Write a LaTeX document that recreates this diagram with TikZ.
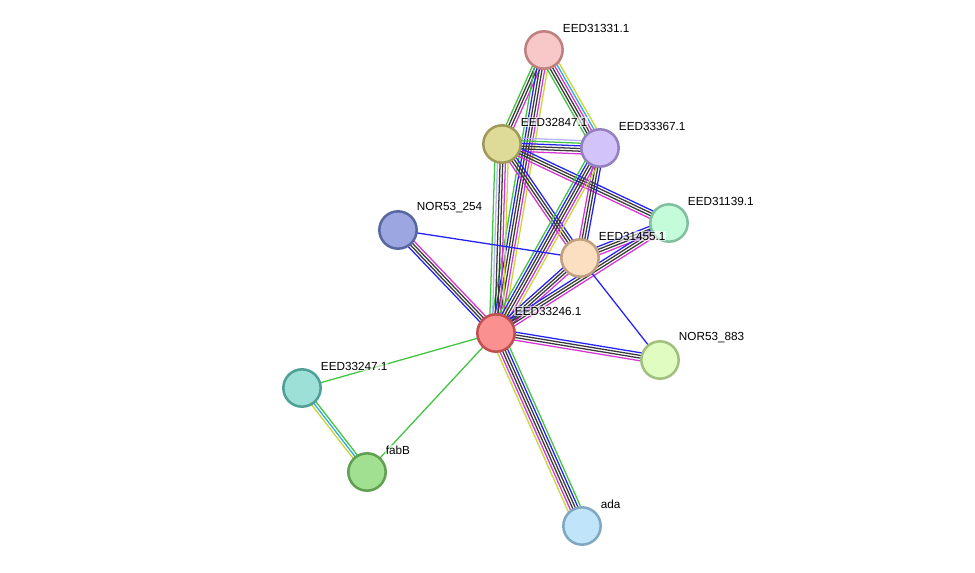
\documentclass[tikz,border=0pt]{standalone}
\usepackage{fontspec}
\setmainfont{Liberation Sans}
\usepackage{xcolor}
\usetikzlibrary{calc,backgrounds}
% evidence colours
\definecolor{nbgreen}{RGB}{62,196,62}
\definecolor{coblue}{RGB}{34,34,248}
\definecolor{coexp}{RGB}{58,58,58}
\definecolor{expmag}{RGB}{214,52,214}
\definecolor{dbcyan}{RGB}{44,172,222}
\definecolor{tmyellow}{RGB}{198,214,50}
\definecolor{homlav}{RGB}{178,178,246}
% protein colours
\definecolor{pinkA}{RGB}{248,200,200}\definecolor{pinkB}{RGB}{192,128,128}
\definecolor{oliveA}{RGB}{222,218,152}\definecolor{oliveB}{RGB}{160,154,90}
\definecolor{lavA}{RGB}{210,196,250}\definecolor{lavB}{RGB}{148,128,192}
\definecolor{mintA}{RGB}{196,252,218}\definecolor{mintB}{RGB}{128,192,160}
\definecolor{slateA}{RGB}{156,166,224}\definecolor{slateB}{RGB}{88,104,160}
\definecolor{peachA}{RGB}{252,222,192}\definecolor{peachB}{RGB}{192,160,128}
\definecolor{redA}{RGB}{250,144,144}\definecolor{redB}{RGB}{192,80,80}
\definecolor{limeA}{RGB}{224,252,192}\definecolor{limeB}{RGB}{160,192,128}
\definecolor{tealA}{RGB}{156,224,215}\definecolor{tealB}{RGB}{80,160,152}
\definecolor{leafA}{RGB}{160,224,144}\definecolor{leafB}{RGB}{96,160,80}
\definecolor{skyA}{RGB}{192,228,250}\definecolor{skyB}{RGB}{128,168,192}

% #1 number of lines, #2 #3 nodes, #4 colours
\newcommand{\evlink}[4]{%
  \foreach \c [count=\i] in {#4} {
    \pgfmathsetmacro{\off}{(\i-(#1+1)/2)*2.0}
    \draw[evline, draw=\c] ($(#2)!\off pt!90:(#3)$) -- ($(#3)!\off pt!-90:(#2)$);
  }}

\begin{document}
\begin{tikzpicture}[
    x=0.75pt, y=-0.75pt,
    protein/.style={circle, inner sep=0pt, minimum size=28pt, line width=1.9pt},
    evline/.style={line width=0.95pt},
    lbl/.style={anchor=west, inner sep=0.5pt, fill=white, fill opacity=0.6,
        text opacity=1, font=\fontsize{8.8pt}{10pt}\selectfont}
]
\useasboundingbox (0,0) rectangle (975,572);

\node[protein, fill=pinkA, draw=pinkB] (p31331) at (544,50) {};
\node[protein, fill=oliveA, draw=oliveB] (p32847) at (502,144) {};
\node[protein, fill=lavA, draw=lavB] (p33367) at (600,148) {};
\node[protein, fill=mintA, draw=mintB] (p31139) at (669,223) {};
\node[protein, fill=slateA, draw=slateB] (n254) at (398,230) {};
\node[protein, fill=peachA, draw=peachB] (p31455) at (580,258) {};
\node[protein, fill=redA, draw=redB] (p33246) at (496,333) {};
\node[protein, fill=limeA, draw=limeB] (n883) at (660,360) {};
\node[protein, fill=tealA, draw=tealB] (p33247) at (302,388) {};
\node[protein, fill=leafA, draw=leafB] (fabB) at (367,472) {};
\node[protein, fill=skyA, draw=skyB] (ada) at (582,526) {};

\begin{scope}[on background layer]
\fill[white] (0,0) rectangle (975,572);
\evlink{4}{p31331}{p32847}{nbgreen,coexp,coexp,expmag}
\evlink{6}{p31331}{p33246}{nbgreen,coblue,coexp,coexp,expmag,tmyellow}
\evlink{6}{p31331}{p33367}{nbgreen,coexp,coexp,expmag,dbcyan,tmyellow}
\evlink{6}{p32847}{p33367}{expmag,coexp,coexp,coblue,nbgreen,homlav}
\evlink{6}{p32847}{p33246}{nbgreen,homlav,coexp,coexp,expmag,tmyellow}
\evlink{4}{p32847}{p31455}{expmag,coexp,coexp,coblue}
\evlink{4}{p32847}{p31139}{expmag,coexp,coexp,coblue}
\evlink{4}{p33367}{p31455}{expmag,coexp,coexp,coblue}
\evlink{6}{p33367}{p33246}{nbgreen,coblue,coexp,coexp,expmag,tmyellow}
\evlink{4}{p31455}{p31139}{expmag,coexp,coexp,coblue}
\evlink{4}{p31455}{p33246}{coblue,coexp,coexp,expmag}
\evlink{4}{p31139}{p33246}{coblue,coexp,coexp,expmag}
\evlink{1}{p31455}{n883}{coblue}
\evlink{1}{n254}{p31455}{coblue}
\evlink{4}{n254}{p33246}{coblue,coexp,coexp,expmag}
\evlink{4}{p33246}{n883}{expmag,coexp,coexp,coblue}
\evlink{6}{p33246}{ada}{tmyellow,expmag,coexp,coexp,coblue,nbgreen}
\evlink{1}{p33246}{p33247}{nbgreen}
\evlink{1}{p33246}{fabB}{nbgreen}
\evlink{3}{p33247}{fabB}{tmyellow,dbcyan,nbgreen}
\end{scope}

\node[lbl] (l31331) at ($(p31331)+(18,-22)$) {EED31331.1};
\node[lbl] (l32847) at ($(p32847)+(18,-22)$) {EED32847.1};
\node[lbl] (l33367) at ($(p33367)+(18,-22)$) {EED33367.1};
\node[lbl] (l31139) at ($(p31139)+(18,-22)$) {EED31139.1};
\node[lbl] (l254) at ($(n254)+(18,-22)$) {NOR53\_254};
\node[lbl] (l31455) at ($(p31455)+(18,-22)$) {EED31455.1};
\node[lbl] (l33246) at ($(p33246)+(18,-22)$) {EED33246.1};
\node[lbl] (l883) at ($(n883)+(18,-22)$) {NOR53\_883};
\node[lbl] (l33247) at ($(p33247)+(18,-22)$) {EED33247.1};
\node[lbl] (lfabB) at ($(fabB)+(18,-22)$) {fabB};
\node[lbl] (lada) at ($(ada)+(18,-22)$) {ada};
\end{tikzpicture}
\end{document}
